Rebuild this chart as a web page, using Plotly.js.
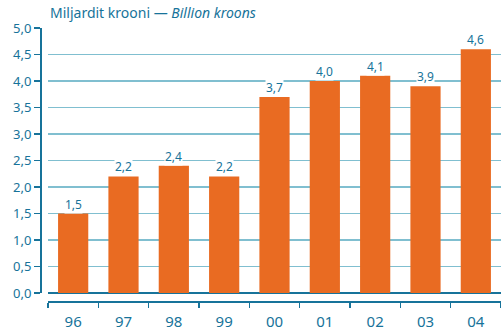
<!DOCTYPE html>
<html><head><meta charset="utf-8">
<script src="https://cdn.plot.ly/plotly-3.0.1.min.js"></script>
<style>html,body{margin:0;padding:0;background:#fff}#c{width:501px;height:333px}</style>
</head><body><div id="c"></div>
<script>
const years = ["96","97","98","99","00","01","02","03","04"];
const values = [1.5, 2.2, 2.4, 2.2, 3.7, 4.0, 4.1, 3.9, 4.6];
const yTicks = [0,0.5,1,1.5,2,2.5,3,3.5,4,4.5,5];

const blue = "#17739a";
const orange = "#e96b22";
const fontFam = "'Noto Sans', 'Open Sans', sans-serif";

const trace = {
  type: "bar", x: years, y: values,
  marker: {color: orange, line: {width: 0}},
  width: 0.6, hoverinfo: "none"
};

const annotations = years.map((yr, i) => ({
  x: i, y: values[i], xref: "x", yref: "y",
  text: values[i].toFixed(1).replace(".", ","),
  showarrow: false, yanchor: "bottom", yshift: 0,
  bgcolor: "#ffffff", borderpad: 0,
  font: {family: fontFam, size: 12, color: blue}
}));
annotations.push({
  xref: "paper", yref: "paper", x: 7/460, y: 1, yshift: 4,
  xanchor: "left", yanchor: "bottom", showarrow: false,
  text: "Miljardit krooni — <i>Billion kroons</i>",
  font: {family: fontFam, size: 14, color: blue}
});

const layout = {
  width: 501, height: 333,
  margin: {l: 41, r: 0, t: 28, b: 31},
  paper_bgcolor: "#fff", plot_bgcolor: "#fff",
  separators: ",.",
  showlegend: false,
  font: {family: fontFam, color: blue},
  xaxis: {
    domain: [7/460, 1],
    anchor: "free", position: 0,
    type: "category",
    range: [-0.5, 8.5],
    showline: true, linecolor: blue, linewidth: 2,
    ticks: "outside", tickson: "boundaries", ticklen: 5, tickwidth: 1.5, tickcolor: blue,
    showgrid: false, zeroline: false,
    tickfont: {family: fontFam, size: 15, color: blue},
    ticklabelstandoff: 6
  },
  yaxis: {
    domain: [9/274, 1],
    anchor: "free", position: 0,
    range: [0, 5], tickvals: yTicks, tickformat: ".1f",
    showline: true, linecolor: blue, linewidth: 2,
    ticks: "outside", ticklen: 6, tickwidth: 1.5, tickcolor: blue,
    showgrid: true, gridcolor: "#80bfd0", gridwidth: 1.5,
    zeroline: true, zerolinecolor: blue, zerolinewidth: 1.5,
    tickfont: {family: fontFam, size: 13, color: blue}
  },
  annotations: annotations,
  bargap: 0.4
};

Plotly.newPlot("c", [trace], layout, {staticPlot: true, displayModeBar: false});
</script></body></html>
